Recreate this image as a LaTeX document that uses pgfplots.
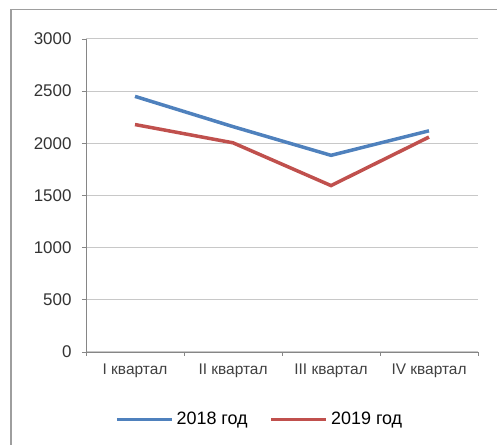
\documentclass[border=0pt]{standalone}
\usepackage{pgfplots}
\pgfplotsset{compat=1.18}
\usepackage{fontspec}
\setmainfont{Liberation Sans}
\definecolor{blue18}{HTML}{4F81BD}
\definecolor{red19}{HTML}{C0504D}
\definecolor{axgray}{HTML}{868686}
\definecolor{gridgray}{HTML}{C8C8C8}
\begin{document}
\begin{tikzpicture}[x=1bp,y=1bp]
	% image area, relative to the axis' lower left corner
	\useasboundingbox (-86,-93) rectangle (411,352);
	\draw[color=axgray!80, line width=1.5bp] (-75,-120) -- (-75,342.5) -- (450,342.5);
	\begin{axis}[
		scale only axis,
		width=392bp, height=313bp,
		xmin=0, xmax=4,
		ymin=0, ymax=3000,
		ytick={0,500,1000,1500,2000,2500,3000},
		xtick={0.5,1.5,2.5,3.5},
		xticklabels={I квартал, II квартал, III квартал, IV квартал},
		minor xtick={0,1,2,3,4},
		major x tick style={draw=none},
		minor tick length=4bp,
		major tick length=4bp,
		tick align=outside,
		tick style={color=axgray, line width=0.8bp},
		axis x line*=bottom,
		axis y line*=left,
		axis line style={color=axgray, line width=0.8bp, -},
		ymajorgrids=true,
		grid style={color=gridgray, line width=1bp},
		yticklabel style={font=\fontsize{17}{19}\selectfont, color=black!80, xshift=-7bp},
		xticklabel style={font=\fontsize{15.5}{17}\selectfont, color=black!75, yshift=-4bp},
		/pgf/number format/assume math mode=true,
		/pgf/number format/1000 sep={},
		legend columns=2,
		legend style={draw=none, at={(axis description cs:0.443,-0.215)}, anchor=center,
			font=\fontsize{18}{20}\selectfont, column sep=20bp,
			/tikz/every odd column/.style={column sep=1bp}},
		legend image code/.code={\draw[#1, line width=3.5bp] (0bp,0bp) -- (55bp,0bp);},
		]
		\addplot[color=blue18, line width=3.5bp] coordinates {
			(0.5,2450) (1.5,2160) (2.5,1885) (3.5,2120)
		};
		\addplot[color=red19, line width=3.5bp] coordinates {
			(0.5,2180) (1.5,2005) (2.5,1595) (3.5,2060)
		};
		\legend{2018 год, 2019 год}
	\end{axis}
\end{tikzpicture}
\end{document}
